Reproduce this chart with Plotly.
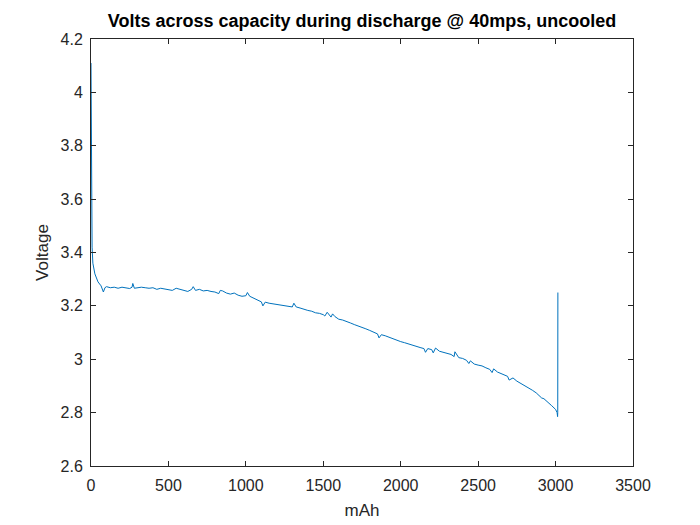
import plotly.graph_objects as go

capacity_mAh = [0, 2, 4, 7, 12, 25, 45, 65, 80, 90, 100, 125, 150, 175, 200, 225, 250, 265, 270, 280, 300,
                325, 350, 375, 400, 425, 450, 475, 500, 525, 550, 575, 600, 625, 650, 660, 675, 700, 725,
                750, 775, 800, 825, 835, 850, 875, 900, 925, 950, 975, 1000, 1010, 1025, 1050, 1075, 1100,
                1110, 1125, 1150, 1175, 1200, 1225, 1250, 1275, 1300, 1310, 1325, 1350, 1375, 1400, 1425,
                1450, 1475, 1500, 1510, 1525, 1550, 1560, 1575, 1600, 1625, 1650, 1675, 1700, 1725, 1750,
                1775, 1800, 1825, 1850, 1860, 1875, 1900, 1925, 1950, 1975, 2000, 2025, 2050, 2075, 2100,
                2125, 2150, 2160, 2175, 2200, 2210, 2225, 2250, 2275, 2300, 2325, 2345, 2350, 2375, 2400,
                2425, 2440, 2450, 2475, 2500, 2525, 2550, 2575, 2590, 2600, 2625, 2650, 2675, 2690, 2700,
                2725, 2750, 2775, 2800, 2825, 2850, 2875, 2900, 2910, 2925, 2950, 2975, 3000, 3010, 3013,
                3014, 3015]
voltage_V = [4.11, 3.90, 3.60, 3.42, 3.36, 3.32, 3.29, 3.275, 3.252, 3.268, 3.272, 3.268, 3.270, 3.266,
             3.270, 3.268, 3.265, 3.270, 3.284, 3.266, 3.268,
             3.270, 3.268, 3.266, 3.268, 3.262, 3.266, 3.264, 3.262, 3.258, 3.266, 3.262, 3.260, 3.254,
             3.262, 3.272, 3.258, 3.262, 3.256,
             3.258, 3.254, 3.252, 3.246, 3.258, 3.256, 3.248, 3.244, 3.248, 3.240, 3.236, 3.238, 3.250,
             3.236, 3.228, 3.222, 3.215,
             3.200, 3.214, 3.210, 3.208, 3.206, 3.204, 3.202, 3.198, 3.196, 3.210, 3.196, 3.192, 3.186,
             3.183, 3.180,
             3.174, 3.172, 3.167, 3.162, 3.176, 3.158, 3.170, 3.160, 3.150, 3.147, 3.140, 3.136, 3.130,
             3.125, 3.121,
             3.114, 3.108, 3.100, 3.095, 3.080, 3.092, 3.088, 3.082, 3.076, 3.072, 3.066, 3.062, 3.057,
             3.052, 3.048,
             3.044, 3.040, 3.026, 3.040, 3.036, 3.024, 3.042, 3.030, 3.026, 3.022, 3.018, 3.010, 3.028,
             3.006, 3.003,
             2.996, 2.984, 2.994, 2.982, 2.978, 2.975, 2.968, 2.962, 2.950, 2.964, 2.952, 2.945, 2.940,
             2.936, 2.922,
             2.930, 2.918, 2.910, 2.902, 2.892, 2.884, 2.874, 2.862, 2.855, 2.852, 2.840, 2.826, 2.812,
             2.800, 2.785,
             2.800, 3.250]

x_ticks = [0, 500, 1000, 1500, 2000, 2500, 3000, 3500]
y_ticks = [2.6, 2.8, 3.0, 3.2, 3.4, 3.6, 3.8, 4.0, 4.2]
y_tick_labels = ["2.6", "2.8", "3", "3.2", "3.4", "3.6", "3.8", "4", "4.2"]

FONT = "Liberation Sans, Arial"
fig = go.Figure()
fig.add_trace(go.Scatter(x=capacity_mAh, y=voltage_V, mode="lines",
                         line=dict(color="#0072BD", width=1), showlegend=False))

axis_common = dict(showline=True, linecolor="#262626", linewidth=1, mirror="ticks",
                   ticks="inside", ticklen=5, tickcolor="#262626", showgrid=False,
                   zeroline=False, automargin=False,
                   tickfont=dict(family=FONT, size=16, color="#262626"))

fig.update_xaxes(range=[0, 3500], tickvals=x_ticks, ticklabelstandoff=5,
                 title=dict(text="mAh", standoff=10, font=dict(family=FONT, size=17, color="#262626")),
                 **axis_common)
fig.update_yaxes(range=[2.6, 4.2], tickvals=y_ticks, ticktext=y_tick_labels, ticklabelstandoff=4,
                 title=dict(text="Voltage", standoff=7, font=dict(family=FONT, size=17, color="#262626")),
                 **axis_common)

# the page body adds an 8px offset; margins compensate so the plot area lands at 91..633 x 39..466
fig.update_layout(
    width=700, height=525,
    margin=dict(l=83, r=75, t=31, b=67, autoexpand=False),
    paper_bgcolor="white", plot_bgcolor="white",
    title=dict(text="<b>Volts across capacity during discharge @ 40mps, uncooled</b>",
               x=0.5, xref="paper", y=1 - 13 / 525, yref="container", yanchor="middle",
               automargin=False,
               font=dict(family=FONT, size=18, color="black")),
)

fig.write_html("out.html")
